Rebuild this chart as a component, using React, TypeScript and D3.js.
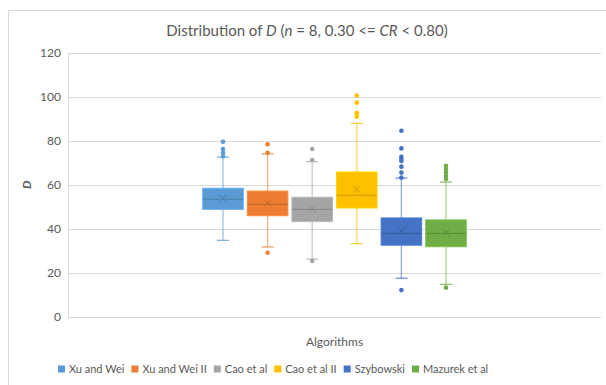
import React, { useRef, useEffect } from 'react';
import * as d3 from 'd3';

const seriesNames = ['Xu and Wei', 'Xu and Wei II', 'Cao et al', 'Cao et al II', 'Szybowski', 'Mazurek et al'];
const seriesColors = ['#5B9BD5', '#ED7D31', '#A5A5A5', '#FFC000', '#4472C4', '#70AD47'];
const q1 = [48.8, 45.9, 43.2, 49.4, 32.5, 31.8];
const median = [53.4, 51.1, 48.8, 55.2, 37.9, 37.9];
const q3 = [58.4, 57.1, 54.3, 65.8, 44.9, 44.0];
const mean = [53.8, 51.7, 49.1, 57.9, 39.1, 38.2];
const whiskerLow = [34.7, 31.7, 26.2, 33.2, 17.5, 14.7];
const whiskerHigh = [72.5, 74.0, 70.5, 87.9, 63.0, 61.2];
const outliers = [
  [79.5, 76.2, 74.5, 72.9],
  [78.4, 74.5, 29.1],
  [76.2, 71.2, 25.3],
  [100.5, 97.3, 92.7, 92.0, 90.9],
  [84.5, 76.5, 72.7, 71.7, 70.8, 68.2, 65.5, 63.2, 12.1],
  [68.6, 67.1, 65.6, 64.1, 62.6, 13.2],
];
const categories = ['Algorithms'];
const yTicks = [0, 20, 40, 60, 80, 100, 120];

const FONT = 'Lato, "Open Sans", sans-serif';
const TEXT = '#595959';

const App = () => {
  const svgRef = useRef<SVGSVGElement>(null);

  useEffect(() => {
    const width = 606;
    const height = 385;
    const plot = { left: 68, right: 601, top: 52.7, bottom: 316.7 };

    const svg = d3.select(svgRef.current)
      .attr('width', width)
      .attr('height', height);
    svg.selectAll('*').remove(); // start clean

    // chart frame
    svg.append('rect')
      .attr('x', 8.5).attr('y', 10.5)
      .attr('width', 640).attr('height', 420)
      .attr('fill', 'white')
      .attr('stroke', '#d9d9d9');

    const yScale = d3.scaleLinear().domain([0, 120]).range([plot.bottom, plot.top]);

    const xCat = d3.scaleBand()
      .domain(categories)
      .range([plot.left, plot.right])
      .paddingInner(0)
      .paddingOuter(0.496);

    const xSeries = d3.scaleBand()
      .domain(seriesNames)
      .range([0, xCat.bandwidth()])
      .paddingInner(0.09)
      .paddingOuter(0.045);

    // gridlines
    svg.append('g').selectAll('line')
      .data(yTicks)
      .enter()
      .append('line')
      .attr('x1', plot.left).attr('x2', plot.right)
      .attr('y1', d => Math.round(yScale(d)) + 0.5)
      .attr('y2', d => Math.round(yScale(d)) + 0.5)
      .attr('stroke', '#d9d9d9');

    svg.append('line')
      .attr('x1', plot.left + 0.5).attr('x2', plot.left + 0.5)
      .attr('y1', yScale(120)).attr('y2', yScale(0))
      .attr('stroke', '#d9d9d9');

    // y tick labels
    svg.append('g').selectAll('text')
      .data(yTicks)
      .enter()
      .append('text')
      .attr('x', 61)
      .attr('y', d => yScale(d) + 4)
      .attr('text-anchor', 'end')
      .attr('font-family', FONT)
      .attr('font-size', 12)
      .attr('fill', TEXT)
      .text(d => d);

    // boxes
    const groups = svg.append('g').selectAll('g')
      .data(seriesNames)
      .enter()
      .append('g')
      .attr('transform', d => `translate(${(xCat('Algorithms') ?? 0) + (xSeries(d) ?? 0)},0)`);

    const bw = xSeries.bandwidth();
    const cx = bw / 2;

    groups.each(function (name, i) {
      const g = d3.select(this);
      const color = seriesColors[i];
      const dark = d3.color(color)!.darker(0.6).formatHex();

      // whiskers
      g.append('line')
        .attr('x1', cx).attr('x2', cx)
        .attr('y1', yScale(whiskerHigh[i])).attr('y2', yScale(q3[i]))
        .attr('stroke', color).attr('stroke-opacity', 0.6).attr('stroke-width', 1.3);
      g.append('line')
        .attr('x1', cx).attr('x2', cx)
        .attr('y1', yScale(q1[i])).attr('y2', yScale(whiskerLow[i]))
        .attr('stroke', color).attr('stroke-opacity', 0.6).attr('stroke-width', 1.3);
      [whiskerHigh[i], whiskerLow[i]].forEach(v => {
        g.append('line')
          .attr('x1', cx - 6).attr('x2', cx + 6)
          .attr('y1', yScale(v)).attr('y2', yScale(v))
          .attr('stroke', color).attr('stroke-opacity', 0.75).attr('stroke-width', 1.3);
      });

      // box
      g.append('rect')
        .attr('x', 0)
        .attr('y', yScale(q3[i]))
        .attr('width', bw)
        .attr('height', yScale(q1[i]) - yScale(q3[i]))
        .attr('fill', color)
        .attr('stroke', d3.color(color)!.brighter(0.3).formatHex())
        .attr('stroke-width', 1);

      // median
      g.append('line')
        .attr('x1', 0).attr('x2', bw)
        .attr('y1', yScale(median[i])).attr('y2', yScale(median[i]))
        .attr('stroke', dark).attr('stroke-width', 1);

      // mean marker
      const my = yScale(mean[i]);
      const s = 3.5;
      g.append('path')
        .attr('d', `M${cx - s},${my - s}L${cx + s},${my + s}M${cx - s},${my + s}L${cx + s},${my - s}`)
        .attr('stroke', dark).attr('stroke-width', 1);

      // outliers
      g.selectAll('circle')
        .data(outliers[i])
        .enter()
        .append('circle')
        .attr('cx', cx)
        .attr('cy', d => yScale(d))
        .attr('r', 2.3)
        .attr('fill', color);
    });

    // title
    const title = svg.append('text')
      .attr('x', 307)
      .attr('y', 36)
      .attr('text-anchor', 'middle')
      .attr('font-family', FONT)
      .attr('font-size', 15)
      .attr('fill', TEXT);
    title.append('tspan').text('Distribution of ');
    title.append('tspan').attr('font-style', 'italic').text('D');
    title.append('tspan').text(' (');
    title.append('tspan').attr('font-style', 'italic').text('n');
    title.append('tspan').text(' = 8, 0.30 <= ');
    title.append('tspan').attr('font-style', 'italic').text('CR');
    title.append('tspan').text(' < 0.80)');

    // axis titles
    svg.append('text')
      .attr('transform', `translate(31,${(plot.top + plot.bottom) / 2}) rotate(-90)`)
      .attr('text-anchor', 'middle')
      .attr('font-family', FONT)
      .attr('font-size', 12)
      .attr('font-weight', 'bold')
      .attr('font-style', 'italic')
      .attr('fill', TEXT)
      .text('D');

    svg.append('text')
      .attr('x', (plot.left + plot.right) / 2)
      .attr('y', 346)
      .attr('text-anchor', 'middle')
      .attr('font-family', FONT)
      .attr('font-size', 12)
      .attr('fill', TEXT)
      .text(categories[0]);

    // legend
    const legend = svg.append('g');
    let lx = 58;
    seriesNames.forEach((name, i) => {
      legend.append('rect')
        .attr('x', lx).attr('y', 365.5)
        .attr('width', 7).attr('height', 7)
        .attr('fill', seriesColors[i]);
      const t = legend.append('text')
        .attr('x', lx + 11)
        .attr('y', 372.5)
        .attr('font-family', FONT)
        .attr('font-size', 11)
        .attr('fill', TEXT)
        .text(name);
      const w = (t.node() as SVGTextElement).getComputedTextLength();
      lx += 11 + w + 7;
    });
  }, []);

  return <svg ref={svgRef} style={{ position: 'absolute', left: 0, top: 0 }}></svg>;
};

export default App;
